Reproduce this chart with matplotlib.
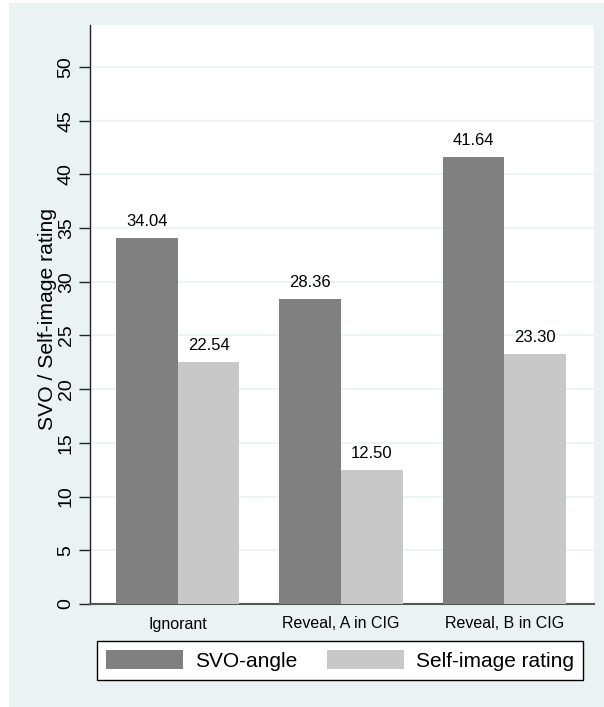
import matplotlib
matplotlib.use("Agg")
import matplotlib.pyplot as plt
import numpy as np
from matplotlib.patches import Patch, Rectangle

plt.rcParams["font.family"] = ["Liberation Sans", "DejaVu Sans"]

# data
groups = ["Ignorant", "Reveal, A in CIG", "Reveal, B in CIG"]
svo_angle = [34.04, 28.36, 41.64]
self_image = [22.54, 12.50, 23.30]
series_names = ["SVO-angle", "Self-image rating"]
y_ticks = [0, 5, 10, 15, 20, 25, 30, 35, 40, 45, 50]

BG = "#eaf2f3"
DARK = "#808080"
LIGHT = "#c8c8c8"

fig = plt.figure(figsize=(6.04, 7.07), dpi=100, facecolor=BG)
# thin white margin on left/top like the source image
fig.patches.append(Rectangle((0, 0), 9 / 604, 1, transform=fig.transFigure,
                             facecolor="white", edgecolor="none", zorder=-1))
fig.patches.append(Rectangle((0, 1 - 3 / 707), 1, 3 / 707, transform=fig.transFigure,
                             facecolor="white", edgecolor="none", zorder=-1))

ax = fig.add_axes([90 / 604, 1 - 604 / 707, (594 - 90) / 604, (604 - 25) / 707])
ax.set_facecolor("white")

x = np.arange(len(groups))
w = 0.378
b1 = ax.bar(x - w / 2, svo_angle, w, color=DARK, zorder=3)
b2 = ax.bar(x + w / 2, self_image, w, color=LIGHT, zorder=3)

for bars, vals in ((b1, svo_angle), (b2, self_image)):
    for r, v in zip(bars, vals):
        ax.annotate(f"{v:.2f}", (r.get_x() + r.get_width() / 2, v),
                    xytext=(0, 9), textcoords="offset pixels",
                    ha="center", va="bottom", fontsize=12, zorder=4)

ax.set_xlim(-0.537, 2.548)
ax.set_ylim(0, 53.9)
ax.set_yticks(y_ticks)
ax.set_yticklabels([str(t) for t in y_ticks], rotation=90, va="center", fontsize=14)
ax.set_xticks(x)
ax.set_xticklabels(groups, fontsize=11.5)
ax.tick_params(axis="x", length=0, pad=9)
ax.tick_params(axis="y", length=8, width=1, pad=3, color="#222222")
ax.yaxis.grid(True, color=BG, lw=1.2, zorder=0)
ax.set_ylabel("SVO / Self-image rating", fontsize=15.2)
ax.yaxis.set_label_coords(-0.066, 0.493)

for s in ("top", "right"):
    ax.spines[s].set_visible(False)
ax.spines["left"].set_color("#222222")
ax.spines["left"].set_linewidth(1)
ax.spines["bottom"].set_color("#555555")
ax.spines["bottom"].set_linewidth(1.5)

handles = [Patch(facecolor=DARK, edgecolor="none"), Patch(facecolor=LIGHT, edgecolor="none")]
leg = fig.legend(handles, series_names, ncol=2, loc="upper left",
                 bbox_to_anchor=(96.7 / 604, 1 - 641 / 707),
                 fontsize=15, frameon=True, fancybox=False, shadow=False,
                 handlelength=3.7, handleheight=1.06, handletextpad=0.6,
                 columnspacing=1.4, borderpad=0.43, borderaxespad=0)
leg.get_frame().set_edgecolor("black")
leg.get_frame().set_linewidth(1)
leg.get_frame().set_facecolor("white")
leg.get_frame().set_alpha(1)

fig.savefig("out.png", dpi=100, facecolor=BG)
